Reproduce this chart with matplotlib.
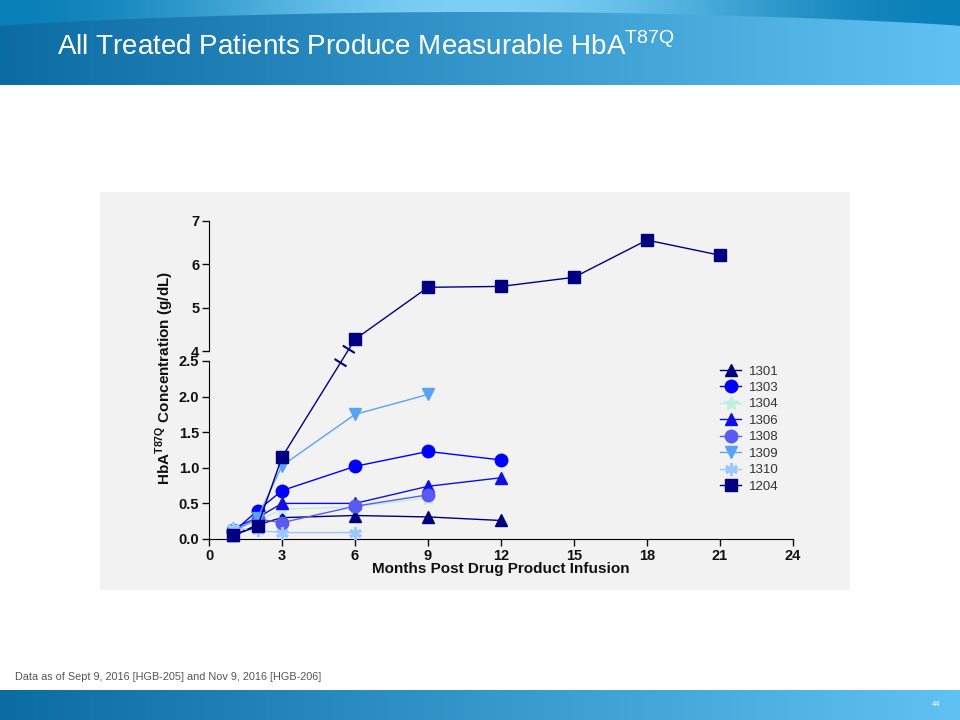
import matplotlib
matplotlib.use("Agg")
import matplotlib.pyplot as plt
from matplotlib.lines import Line2D
import numpy as np

plt.rcParams['font.family'] = ['Liberation Sans', 'DejaVu Sans']

# patient series (months post infusion, HbA-T87Q g/dL)
patients = ["1301", "1303", "1304", "1306", "1308", "1309", "1310", "1204"]
months = {
    "1301": [1, 2, 3, 6, 9, 12],
    "1303": [1, 2, 3, 6, 9, 12],
    "1304": [1, 2, 3, 6, 9],
    "1306": [1, 2, 3, 6, 9, 12],
    "1308": [1, 2, 3, 6, 9],
    "1309": [1, 2, 3, 6, 9],
    "1310": [1, 2, 3, 6],
    "1204": [1, 2, 3, 6, 9, 12, 15, 18, 21],
}
values = {
    "1301": [0.05, 0.20, 0.30, 0.33, 0.31, 0.26],
    "1303": [0.10, 0.40, 0.68, 1.02, 1.23, 1.11],
    "1304": [0.12, 0.25, 0.42, 0.45, 0.58],
    "1306": [0.15, 0.30, 0.50, 0.50, 0.74, 0.86],
    "1308": [0.12, 0.28, 0.23, 0.46, 0.62],
    "1309": [0.10, 0.30, 1.03, 1.75, 2.03],
    "1310": [0.15, 0.12, 0.09, 0.09],
    "1204": [0.05, 0.18, 1.15, 4.27, 5.47, 5.49, 5.70, 6.56, 6.21],
}
xticks = [0, 3, 6, 9, 12, 15, 18, 21, 24]
yticks_low = [0.0, 0.5, 1.0, 1.5, 2.0, 2.5]
yticks_high = [4, 5, 6, 7]

styles = {
    "1301": dict(marker="^", color="#00007a", ms=8),
    "1303": dict(marker="o", color="#0000ff", ms=9),
    "1304": dict(marker="*", color="#bfeedd", ms=10),
    "1306": dict(marker="^", color="#1010e0", ms=8),
    "1308": dict(marker="o", color="#5a5af0", ms=9),
    "1309": dict(marker="v", color="#5aa2f2", ms=9),
    "1310": dict(marker=(6, 2, 0), color="#9cc8ff", ms=9),
    "1204": dict(marker="s", color="#000080", ms=8),
}

W, H = 960, 720
fig = plt.figure(figsize=(9.6, 7.2), dpi=100)


def box(x0, y0, x1, y1):
    # pixel box (top-left origin) -> figure fraction rect
    return [x0 / W, 1 - y1 / H, (x1 - x0) / W, (y1 - y0) / H]


# background decorations
bg = fig.add_axes([0, 0, 1, 1])
bg.axis("off")
gx = np.linspace(0, 1, 256)
left = np.array([0x0b, 0x6b, 0xa3]) / 255
right = np.array([0x60, 0xc2, 0xf2]) / 255
grad = left[None, None, :] * (1 - gx[None, :, None]) + right[None, None, :] * gx[None, :, None]

# top strip, light in the middle
top = np.array([0x0a, 0x80, 0xb8]) / 255
mid = np.array([0x7d, 0xd0, 0xf5]) / 255
s = np.sin(np.pi * gx)[:, None] ** 2
tcol = top[None, :] * (1 - s) + mid[None, :] * s
bg.imshow(tcol[None, :, :], extent=[0, W, 30, 0], aspect="auto", zorder=1)

# main banner with curved top edge
xs = np.linspace(0, W, 400)
arc = 26 - 14 * np.sin(np.pi * xs / W) ** 0.8
im = bg.imshow(grad, extent=[0, W, 85, 0], aspect="auto", zorder=2)
poly = plt.Polygon(np.vstack([np.column_stack([xs, arc]), [[W, 86], [0, 86]]]),
                   transform=bg.transData, facecolor="none", edgecolor="none")
bg.add_patch(poly)
im.set_clip_path(poly)

# bottom bar and grey chart panel
bg.imshow(grad, extent=[0, W, 720, 690], aspect="auto", zorder=2)
bg.add_patch(plt.Rectangle((100, 192), 750, 398, facecolor="#f2f2f2", edgecolor="none", zorder=1))
bg.set_xlim(0, W)
bg.set_ylim(H, 0)

fig.text(57 / W, 1 - 47 / H, "All Treated Patients Produce Measurable HbA$^{\\mathregular{T87Q}}$",
         color="white", fontsize=20, va="center", ha="left",
         family=["Liberation Sans Narrow", "Liberation Sans", "DejaVu Sans"])
fig.text(15 / W, 1 - 677 / H, "Data as of Sept 9, 2016 [HGB-205] and Nov 9, 2016 [HGB-206]",
         color="#555555", fontsize=7.8, va="center", ha="left")
fig.text(936 / W, 1 - 704 / H, "44", color="white", fontsize=5.5, va="center", ha="center")

ax = fig.add_axes(box(209, 361, 793, 539))
axt = fig.add_axes(box(209, 221, 793, 351))
for a in (ax, axt):
    a.patch.set_visible(False)
    a.spines["top"].set_visible(False)
    a.spines["right"].set_visible(False)
    a.tick_params(direction="out", length=5, width=1, pad=2, labelsize=10.5, colors="#111111")
axt.spines["bottom"].set_visible(False)
axt.tick_params(axis="x", bottom=False, labelbottom=False)

ax.set_xlim(0, 24)
ax.set_ylim(0, 2.5)
ax.set_xticks(xticks)
ax.set_xticklabels([str(t) for t in xticks], fontweight="bold")
ax.set_yticks(yticks_low)
ax.set_yticklabels(["%.1f" % t for t in yticks_low], fontweight="bold")
axt.set_xlim(0, 24)
axt.set_ylim(4, 7)
axt.set_yticks(yticks_high)
axt.set_yticklabels([str(t) for t in yticks_high], fontweight="bold")

handles = []
for p in patients:
    st = styles[p]
    x = np.array(months[p])
    y = np.array(values[p])
    kw = dict(color=st["color"], lw=1, marker=st["marker"], ms=st["ms"],
              mec=st["color"], mfc=st["color"], clip_on=False)
    if st["marker"] == (6, 2, 0):
        kw["mew"] = 2.2
    lo = y <= 2.5
    ax.plot(x[lo], y[lo], zorder=3, **kw)
    if (~lo).any():
        axt.plot(x[~lo], y[~lo], zorder=3, **kw)
        # connecting segment across the axis break
        fig.canvas.draw()
        i = np.where(~lo)[0][0]
        p0 = ax.transData.transform((x[i - 1], y[i - 1]))
        p1 = axt.transData.transform((x[i], y[i]))
        inv = fig.transFigure.inverted()
        f0 = inv.transform(p0)
        f1 = inv.transform(p1)
        fig.add_artist(Line2D([f0[0], f1[0]], [f0[1], f1[1]], color=st["color"], lw=1, zorder=2))
        # break marks
        d = p1 - p0
        u = d / np.hypot(*d)
        nrm = np.array([u[1], -u[0]])
        for yy, a in ((2.5, ax), (4, axt)):
            py = a.transData.transform((0, yy))[1]
            t = (py - p0[1]) / d[1]
            c = p0 + t * d
            if yy == 2.5:
                c = c - u * 2
            else:
                c = c + u * 2
            m0 = inv.transform(c - nrm * 6)
            m1 = inv.transform(c + nrm * 6)
            fig.add_artist(Line2D([m0[0], m1[0]], [m0[1], m1[1]], color=st["color"], lw=1.5, zorder=4))
    h = Line2D([], [], **{k: v for k, v in kw.items() if k != "clip_on"})
    handles.append(h)

fig.text(165 / W, 1 - 378 / H, "HbA$^{\\mathregular{T87Q}}$ Concentration (g/dL)", rotation=90,
         ha="center", va="center", fontsize=11, fontweight="bold", color="#111111")
fig.text(501 / W, 1 - 569 / H, "Months Post Drug Product Infusion", ha="center", va="center",
         fontsize=11, fontweight="bold", color="#111111")

leg = fig.legend(handles, patients, loc="upper left", bbox_to_anchor=(715 / W, 1 - 360 / H),
                 frameon=False, fontsize=9.5, handlelength=1.6, labelspacing=0.32,
                 handletextpad=0.6, borderaxespad=0)
for t in leg.get_texts():
    t.set_color("#333333")

fig.savefig("out.png", dpi=100)
